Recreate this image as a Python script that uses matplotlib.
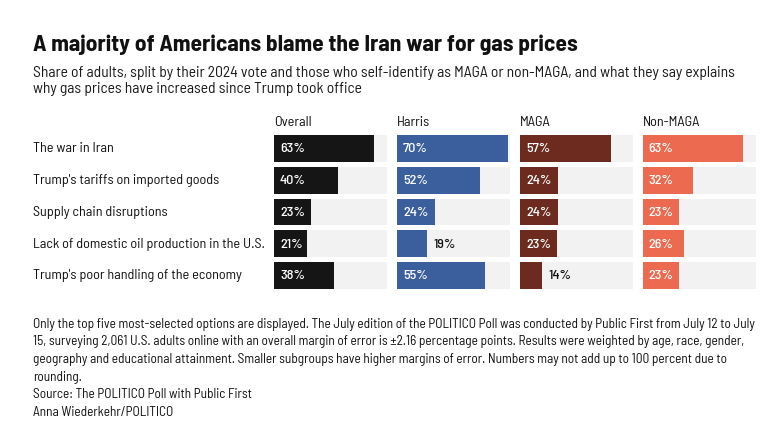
import matplotlib
matplotlib.use("Agg")
import matplotlib.pyplot as plt

categories = ["The war in Iran", "Trump's tariffs on imported goods", "Supply chain disruptions",
              "Lack of domestic oil production in the U.S.", "Trump's poor handling of the economy"]
groups = ["Overall", "Harris", "MAGA", "Non-MAGA"]
overall = [63, 40, 23, 21, 38]
harris = [70, 52, 24, 19, 55]
maga = [57, 24, 24, 23, 14]
nonmaga = [63, 32, 23, 26, 23]
series = [overall, harris, maga, nonmaga]
colors = ["#151515", "#3b5e9d", "#6d2b1f", "#ec6a4f"]

title = "A majority of Americans blame the Iran war for gas prices"
subtitle = ["Share of adults, split by their 2024 vote and those who self-identify as MAGA or non-MAGA, and what they say explains",
            "why gas prices have increased since Trump took office"]
notes = ["Only the top five most-selected options are displayed. The July edition of the POLITICO Poll was conducted by Public First from July 12 to July",
         "15, surveying 2,061 U.S. adults online with an overall margin of error is \u00b12.16 percentage points. Results were weighted by age, race, gender,",
         "geography and educational attainment. Smaller subgroups have higher margins of error. Numbers may not add up to 100 percent due to",
         "rounding."]
source = "Source: The POLITICO Poll with Public First"
credit = "Anna Wiederkehr/POLITICO"

FONT = ["Barlow Semi Condensed", "Roboto Condensed", "DejaVu Sans"]
W, H = 780, 438
fig = plt.figure(figsize=(W / 100, H / 100), dpi=100)
fig.patch.set_facecolor("white")
renderer = fig.canvas.get_renderer()


def fx(px):
    return px / W


def fy(py):
    return 1 - py / H


def fit(texts, ref, target_px):
    w = ref.get_window_extent(renderer).width
    s = target_px / w
    for t in texts:
        t.set_fontsize(t.get_fontsize() * s)


TXT = "#111111"
t_title = fig.text(fx(33), fy(51), title, fontsize=15, fontweight="bold", family=FONT, color=TXT, va="baseline")
fit([t_title], t_title, 544)

t_sub = [fig.text(fx(33), fy(76.5 + i * 16), s, fontsize=10, family=FONT, color="#1a1a1a", va="baseline")
         for i, s in enumerate(subtitle)]
fit(t_sub, t_sub[0], 702)

# panels
lefts = [274, 397, 520, 642.5]
pw = 113
row0, pitch = 148.5, 31.75
n = len(categories)
top = row0 - pitch / 2
bottom = row0 + (n - 1) * pitch + pitch / 2
XMAX = 71
off = 6 / pw * XMAX
pct_texts = []
head_texts = []
for gi, (g, vals, c) in enumerate(zip(groups, series, colors)):
    ax = fig.add_axes([fx(lefts[gi]), fy(bottom), pw / W, (bottom - top) / H])
    ax.set_xlim(0, XMAX)
    ax.set_ylim(n - 0.5, -0.5)
    ax.axis("off")
    ypos = list(range(n))
    ax.barh(ypos, [XMAX] * n, height=0.85, color="#f2f2f2", left=0)
    ax.barh(ypos, vals, height=0.85, color=c, left=0)
    for y, v in zip(ypos, vals):
        if v >= 20:
            t = ax.text(off, y + 0.03, f"{v}%", color="white", fontsize=10, fontweight="medium",
                        family=FONT, va="center", ha="left")
        else:
            t = ax.text(v + off, y + 0.03, f"{v}%", color=TXT, fontsize=10, fontweight="medium",
                        family=FONT, va="center", ha="left")
        pct_texts.append(t)
    head_texts.append(fig.text(fx(lefts[gi]), fy(126), g, fontsize=10, family=FONT, color=TXT, va="baseline"))

cat_texts = []
for i, cat in enumerate(categories):
    yc = row0 + i * pitch
    cat_texts.append(fig.text(fx(33), fy(yc + 0.5), cat, fontsize=10, family=FONT, color=TXT, va="center"))
fit(cat_texts, cat_texts[3], 232)
fs_cat = cat_texts[0].get_fontsize()
for t in pct_texts + head_texts:
    t.set_fontsize(fs_cat)

note_base = [328, 345.5, 363, 380.5, 398, 416]
note_texts = [fig.text(fx(33), fy(note_base[i]), s, fontsize=8.5, family=FONT, color=TXT, va="baseline")
              for i, s in enumerate(notes + [source, credit])]
fit(note_texts, note_texts[0], 724)

fig.savefig("out.png", dpi=100, facecolor="white")
